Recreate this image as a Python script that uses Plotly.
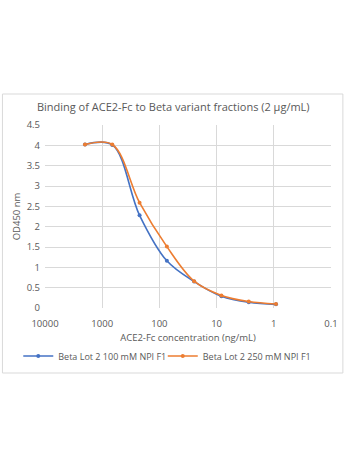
import plotly.graph_objects as go

conc = [2000, 666.7, 222.2, 74.07, 24.69, 8.23, 2.74, 0.914]
lot_100 = [4.02, 4.01, 2.28, 1.16, 0.65, 0.29, 0.14, 0.09]
lot_250 = [4.02, 4.02, 2.59, 1.51, 0.66, 0.31, 0.16, 0.10]
series_names = ["Beta Lot 2 100 mM NPI F1", "Beta Lot 2 250 mM NPI F1"]
x_ticks = [10000, 1000, 100, 10, 1, 0.1]
x_tick_labels = ["10000", "1000", "100", "10", "1", "0.1"]
y_ticks = [0, 0.5, 1, 1.5, 2, 2.5, 3, 3.5, 4, 4.5]
y_tick_labels = ["0", "0.5", "1", "1.5", "2", "2.5", "3", "3.5", "4", "4.5"]

FONT = "Open Sans"
GREY = "#595959"
colors = ["#4472C4", "#ED7D31"]
legend_ids = ["legend", "legend2"]

fig = go.Figure()
for name, vals, c, lg in zip(series_names, [lot_100, lot_250], colors, legend_ids):
    fig.add_trace(go.Scatter(
        x=conc, y=vals, name=name, mode="lines+markers", legend=lg,
        line=dict(color=c, width=1.6, shape="spline", smoothing=1.0),
        marker=dict(color=c, size=4),
    ))

PL, PW, PB, PH = 45, 289, 308, 183
def px(x):
    return (x - PL) / PW
def py(y):
    return (PB - y) / PH

leg_common = dict(orientation="h", yanchor="middle", y=py(356), xanchor="left",
                  font=dict(size=9, color=GREY), itemwidth=30,
                  bgcolor="rgba(0,0,0,0)")

fig.update_layout(
    width=350, height=467,
    margin=dict(l=45, r=16, t=125, b=159),
    paper_bgcolor="white", plot_bgcolor="white",
    font=dict(family=FONT, size=9, color=GREY),
    title=dict(text="Binding of ACE2-Fc to Beta variant fractions (2 µg/mL)",
               x=0.495, xanchor="center", y=1 - 107 / 467, yanchor="middle",
               font=dict(family=FONT, size=11, color=GREY)),
    xaxis=dict(type="log", range=[4, -1], tickvals=x_ticks, ticktext=x_tick_labels,
               showgrid=True, gridcolor="#D9D9D9", gridwidth=1, zeroline=False,
               showline=False, ticks="", ticklabelstandoff=8,
               tickfont=dict(size=9.5, color=GREY),
               title=dict(text="ACE2-Fc concentration (ng/mL)", standoff=5,
                          font=dict(size=9.5, color=GREY))),
    yaxis=dict(range=[0, 4.5], tickvals=y_ticks, ticktext=y_tick_labels,
               showgrid=True, gridcolor="#D9D9D9", gridwidth=1, zeroline=False,
               showline=False, ticks="", ticklabelstandoff=4,
               tickfont=dict(size=9.5, color=GREY),
               title=dict(text="OD450 nm", standoff=4,
                          font=dict(size=9.5, color=GREY))),
    legend=dict(x=px(18), **leg_common),
    legend2=dict(x=px(164), **leg_common),
    showlegend=True,
)

# outer chart border
fig.add_shape(type="rect", xref="paper", yref="paper",
              x0=px(2), x1=px(346), y0=py(373), y1=py(94),
              line=dict(color="#D9D9D9", width=1), fillcolor="rgba(0,0,0,0)", layer="below")

fig.write_html("out.html")
